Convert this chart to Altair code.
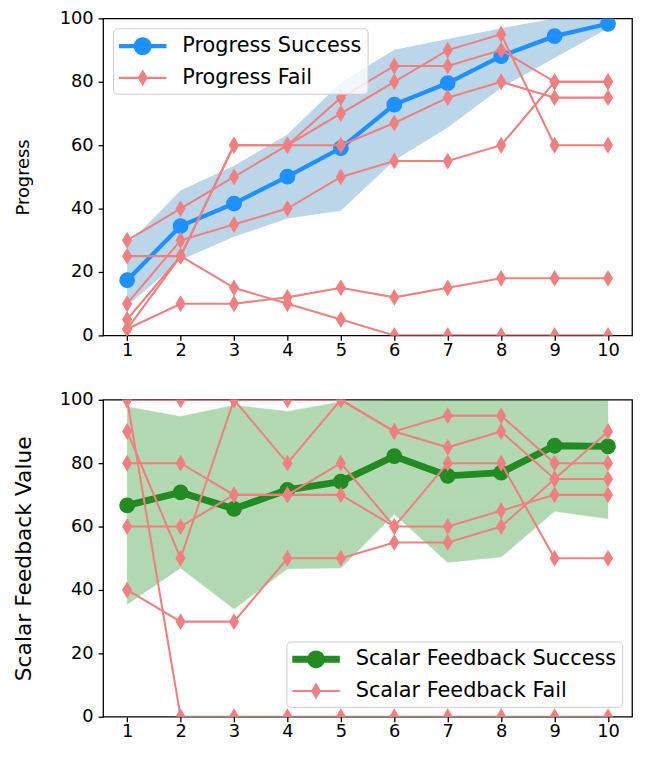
import altair as alt
import pandas as pd

steps = list(range(1, 11))
y_ticks = [0, 20, 40, 60, 80, 100]

progress_success = [17.4, 34.5, 41.6, 50.1, 59.1, 72.8, 79.6, 88.1, 94.4, 98.3]
progress_band_low = [9.3, 23.8, 31.1, 36.9, 39.3, 55.2, 65.6, 78.1, 87.5, 96.9]
progress_band_high = [28.5, 45.7, 53.5, 63.4, 79.7, 90.1, 93.5, 96.9, 100, 100]
progress_fail_1 = [30, 40, 50, 60, 75, 85, 85, 90, 80, 80]
progress_fail_2 = [5, 25, 60, 60, 70, 80, 90, 95, 60, 60]
progress_fail_3 = [2, 25, 60, 60, 60, 67, 75, 80, 75, 75]
progress_fail_4 = [10, 30, 35, 40, 50, 55, 55, 60, 80, 80]
progress_fail_5 = [2, 10, 10, 12, 15, 12, 15, 18, 18, 18]
progress_fail_6 = [25, 25, 15, 10, 5, 0, 0, 0, 0, 0]

scalar_success = [66.7, 70.8, 65.6, 71.6, 74.2, 82.2, 76.0, 77.0, 85.5, 85.3]
scalar_band_low = [35.5, 46.9, 34.0, 46.7, 46.9, 63.9, 48.7, 50.4, 64.8, 62.5]
scalar_band_high = [97.8, 94.7, 98.3, 96.3, 99.4, 100, 100, 100, 100, 100]
scalar_fail_1 = [100, 0, 0, 0, 0, 0, 0, 0, 0, 0]
scalar_fail_2 = [100, 100, 100, 100, 100, 90, 95, 95, 80, 80]
scalar_fail_3 = [90, 50, 100, 80, 100, 90, 85, 90, 75, 75]
scalar_fail_4 = [80, 80, 70, 70, 80, 60, 80, 80, 50, 50]
scalar_fail_5 = [60, 60, 70, 70, 70, 60, 60, 65, 70, 70]
scalar_fail_6 = [40, 30, 30, 50, 50, 55, 55, 60, 75, 90]

FONT = "DejaVu Sans"
FAIL_COLOR = "#F08080"
DIAMOND = "M0,-1 L0.6,0 L0,1 L-0.6,0 Z"


def leg_success_path(half):
    return (f"M-1,-{half} L3,-{half} L3,{half} L-1,{half} Z "
            "M1.75,0 A0.75,0.75 0 1,1 0.25,0 A0.75,0.75 0 1,1 1.75,0 Z")


LEG_FAIL = ("M-1,-0.0875 L3,-0.0875 L3,0.0875 L-1,0.0875 Z "
            "M1,-0.71 L1.42,0 L1,0.71 L0.58,0 Z")

PW, PH = 534, 320


def panel(success, low, high, fails, name_s, name_f, color_s, band_color,
          line_w, ytitle, title_size, title_pad, legend_orient, band_stroke):
    base_df = pd.DataFrame({"step": steps, "value": success,
                            "low": low, "high": high})
    rows = []
    for i, f in enumerate(fails):
        for s, v in zip(steps, f):
            rows.append({"run": i, "step": s, "value": v})
    fail_df = pd.DataFrame(rows)

    xscale = alt.Scale(domain=[0.55, 10.45], nice=False, zero=False)
    yscale = alt.Scale(domain=[0, 100], nice=False, zero=False)
    x = alt.X("step:Q", scale=xscale,
              axis=alt.Axis(values=steps, title=None, format="d", labelPadding=1))
    yaxis = alt.Axis(values=y_ticks, title=ytitle, titleFontSize=title_size,
                     titlePadding=title_pad)
    y = alt.Y("value:Q", scale=yscale, axis=yaxis)

    band_kwargs = dict(color=band_color, opacity=0.3, clip=True)
    if band_stroke:
        band_kwargs.update(stroke=band_color, strokeWidth=1.3, strokeOpacity=0.3)
    band = alt.Chart(base_df).mark_area(**band_kwargs).encode(
        x=x, y=alt.Y("low:Q", scale=yscale, axis=yaxis), y2="high:Q")
    sline = alt.Chart(base_df).mark_line(color=color_s, strokeWidth=line_w, clip=True).encode(x=x, y=y)
    spts = alt.Chart(base_df).mark_point(filled=True, shape="circle", size=254,
                                         color=color_s, opacity=1, clip=True).encode(x=x, y=y)
    fline = alt.Chart(fail_df).mark_line(color=FAIL_COLOR, strokeWidth=2.1, clip=True).encode(
        x=x, y=y, detail="run:N")
    fpts = alt.Chart(fail_df).mark_point(filled=True, shape=DIAMOND, size=290,
                                         color=FAIL_COLOR, opacity=1, clip=True).encode(x=x, y=y)

    leg_df = pd.DataFrame({"series": [name_s, name_f], "step": [5, 5], "value": [50, 50]})
    legend = alt.Legend(title=None, orient=legend_orient, offset=10, padding=6,
                        fillColor="rgba(255,255,255,0.8)", strokeColor="#cccccc",
                        cornerRadius=4, labelFont=FONT, labelFontSize=21,
                        labelColor="black", labelLimit=1000, symbolSize=576,
                        symbolStrokeWidth=0, symbolOpacity=1, labelOffset=40,
                        rowPadding=10)
    s_path = leg_success_path(round(line_w / 2 / 12, 3))
    dummy = alt.Chart(leg_df).mark_point(filled=True, opacity=0, clip=True).encode(
        x=x, y=y,
        color=alt.Color("series:N", scale=alt.Scale(domain=[name_s, name_f], range=[color_s, FAIL_COLOR]),
                        legend=legend),
        shape=alt.Shape("series:N", scale=alt.Scale(domain=[name_s, name_f], range=[s_path, LEG_FAIL]),
                        legend=legend))
    return alt.layer(band, sline, spts, fline, fpts, dummy).properties(width=PW, height=PH)


top = panel(progress_success, progress_band_low, progress_band_high,
            [progress_fail_1, progress_fail_2, progress_fail_3,
             progress_fail_4, progress_fail_5, progress_fail_6],
            "Progress Success", "Progress Fail", "#1E90FF", "#1f77b4",
            4.3, "Progress", 18, 27, "top-left", False)
bottom = panel(scalar_success, scalar_band_low, scalar_band_high,
               [scalar_fail_1, scalar_fail_2, scalar_fail_3,
                scalar_fail_4, scalar_fail_5, scalar_fail_6],
               "Scalar Feedback Success", "Scalar Feedback Fail", "#228B22", "#008000",
               7, "Scalar Feedback Value", 22, 24, "bottom-right", True)

chart = alt.vconcat(top, bottom, spacing=30).resolve_scale(
    color="independent", shape="independent").resolve_legend(
    color="independent", shape="independent").properties(
    padding={"left": 3, "top": -3, "right": 5, "bottom": 0}
).configure(font=FONT).configure_view(
    stroke="black", strokeWidth=1.3
).configure_axis(
    grid=False, domain=False, tickColor="black", tickWidth=1.3, tickSize=5,
    labelColor="black", labelFont=FONT, labelFontSize=18, labelPadding=5,
    titleColor="black", titleFont=FONT, titleFontSize=18, titleFontWeight="normal",
    titlePadding=29
)

chart.save("out.html", embed_options={"renderer": "svg", "actions": False})
